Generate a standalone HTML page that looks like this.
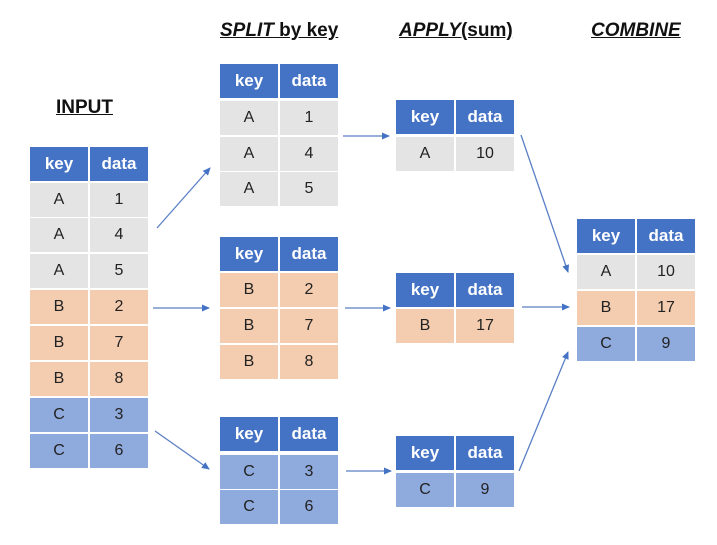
<!DOCTYPE html>
<html><head><meta charset="utf-8"><style>
html,body{margin:0;padding:0;background:#fff;}
body{width:717px;height:545px;position:relative;overflow:hidden;font-family:"Liberation Sans","DejaVu Sans",sans-serif;}
.c{position:absolute;width:58px;height:34px;line-height:34px;text-align:center;font-size:16px;color:#222;}
.h{background:#4472c4;color:#fff;font-weight:bold;font-size:17px;}
.g{background:#e4e4e4;}
.o{background:#f4cdb0;}
.b{background:#8faadc;}
.t{position:absolute;font-weight:bold;font-size:19px;text-decoration:underline;color:#111;white-space:nowrap;}
</style></head><body>
<div class="t" style="left:56px;top:97px;">INPUT</div>
<div class="t" style="left:220px;top:20px;"><i>SPLIT</i> by key</div>
<div class="t" style="left:399px;top:20px;"><i>APPLY</i>(sum)</div>
<div class="t" style="left:591px;top:20px;"><i>COMBINE</i></div>

<!-- INPUT -->
<div class="c h" style="left:30px;top:147px">key</div><div class="c h" style="left:90px;top:147px">data</div>
<div class="c g" style="left:30px;top:183px">A</div><div class="c g" style="left:90px;top:183px">1</div>
<div class="c g" style="left:30px;top:218px">A</div><div class="c g" style="left:90px;top:218px">4</div>
<div class="c g" style="left:30px;top:254px">A</div><div class="c g" style="left:90px;top:254px">5</div>
<div class="c o" style="left:30px;top:290px">B</div><div class="c o" style="left:90px;top:290px">2</div>
<div class="c o" style="left:30px;top:326px">B</div><div class="c o" style="left:90px;top:326px">7</div>
<div class="c o" style="left:30px;top:362px">B</div><div class="c o" style="left:90px;top:362px">8</div>
<div class="c b" style="left:30px;top:398px">C</div><div class="c b" style="left:90px;top:398px">3</div>
<div class="c b" style="left:30px;top:434px">C</div><div class="c b" style="left:90px;top:434px">6</div>

<!-- SPLIT -->
<div class="c h" style="left:220px;top:64px">key</div><div class="c h" style="left:280px;top:64px">data</div>
<div class="c g" style="left:220px;top:101px">A</div><div class="c g" style="left:280px;top:101px">1</div>
<div class="c g" style="left:220px;top:137px">A</div><div class="c g" style="left:280px;top:137px">4</div>
<div class="c g" style="left:220px;top:172px">A</div><div class="c g" style="left:280px;top:172px">5</div>

<div class="c h" style="left:220px;top:237px">key</div><div class="c h" style="left:280px;top:237px">data</div>
<div class="c o" style="left:220px;top:273px">B</div><div class="c o" style="left:280px;top:273px">2</div>
<div class="c o" style="left:220px;top:309px">B</div><div class="c o" style="left:280px;top:309px">7</div>
<div class="c o" style="left:220px;top:345px">B</div><div class="c o" style="left:280px;top:345px">8</div>

<div class="c h" style="left:220px;top:417px">key</div><div class="c h" style="left:280px;top:417px">data</div>
<div class="c b" style="left:220px;top:455px">C</div><div class="c b" style="left:280px;top:455px">3</div>
<div class="c b" style="left:220px;top:490px">C</div><div class="c b" style="left:280px;top:490px">6</div>

<!-- APPLY -->
<div class="c h" style="left:396px;top:100px">key</div><div class="c h" style="left:456px;top:100px">data</div>
<div class="c g" style="left:396px;top:137px">A</div><div class="c g" style="left:456px;top:137px">10</div>

<div class="c h" style="left:396px;top:273px">key</div><div class="c h" style="left:456px;top:273px">data</div>
<div class="c o" style="left:396px;top:309px">B</div><div class="c o" style="left:456px;top:309px">17</div>

<div class="c h" style="left:396px;top:436px">key</div><div class="c h" style="left:456px;top:436px">data</div>
<div class="c b" style="left:396px;top:473px">C</div><div class="c b" style="left:456px;top:473px">9</div>

<!-- COMBINE -->
<div class="c h" style="left:577px;top:219px">key</div><div class="c h" style="left:637px;top:219px">data</div>
<div class="c g" style="left:577px;top:255px">A</div><div class="c g" style="left:637px;top:255px">10</div>
<div class="c o" style="left:577px;top:291px">B</div><div class="c o" style="left:637px;top:291px">17</div>
<div class="c b" style="left:577px;top:327px">C</div><div class="c b" style="left:637px;top:327px">9</div>

<svg width="717" height="545" style="position:absolute;left:0;top:0">
<defs><marker id="a" markerWidth="8" markerHeight="8" refX="7" refY="4" orient="auto" markerUnits="userSpaceOnUse"><path d="M0,0.5 L8,4 L0,7.5z" fill="#4472c4"/></marker></defs>
<g stroke="#5b7fc4" stroke-width="1.3" fill="none" marker-end="url(#a)">
<line x1="157" y1="228" x2="210" y2="168"/>
<line x1="153" y1="308" x2="209" y2="308"/>
<line x1="155" y1="431" x2="209" y2="469"/>
<line x1="343" y1="136" x2="389" y2="136"/>
<line x1="345" y1="308" x2="390" y2="308"/>
<line x1="346" y1="471" x2="391" y2="471"/>
<line x1="521" y1="135" x2="568" y2="272"/>
<line x1="522" y1="307" x2="569" y2="307"/>
<line x1="519" y1="471" x2="568" y2="352"/>
</g></svg>
</body></html>
